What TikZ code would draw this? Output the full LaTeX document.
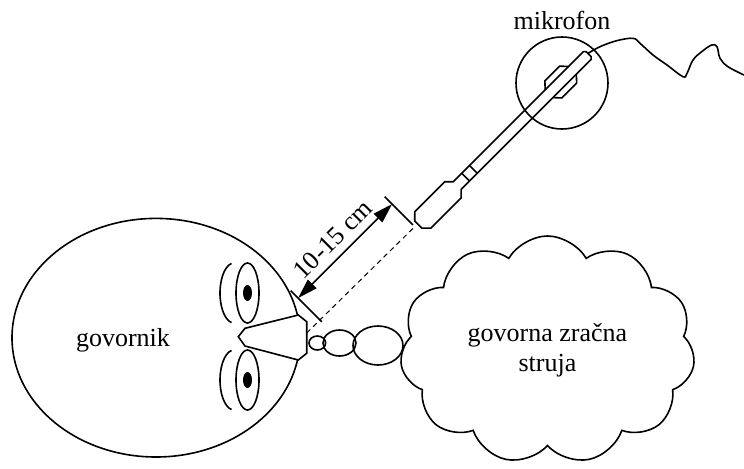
\documentclass[tikz,border=0pt]{standalone}
\usepackage{fontspec}
\setmainfont{Liberation Serif}
\usepackage{tikz}
\usetikzlibrary{arrows.meta,shapes.geometric,shapes.symbols}

\begin{document}
\begin{tikzpicture}[x=0.5pt,y=0.5pt,line width=0.8pt]
    \tikzset{lbl/.style= {font=\fontsize{13}{15}\selectfont
    , align=center
    , inner sep=0pt
      }
    , bubble/.style= {draw, ellipse, inner sep=0pt}
    , eye/.style= {draw, ellipse, inner sep=0pt
    , minimum width=11.5pt, minimum height=30pt}
    , pupil/.style= {fill, ellipse, inner sep=0pt
    , minimum width=4.5pt, minimum height=8pt}
    , dim/.style= {{Triangle[length=10pt,width=6pt]}-{Triangle[length=10pt,width=6pt]}}
    }
\useasboundingbox (0,0) rectangle (744,468);

% head with eyes
\node [draw, ellipse, inner sep=0pt, minimum width=144pt, minimum height=119.3pt] (head) at (156,130.3) {};
\node [lbl] (speaker) at (123,127.3) {govornik};
\foreach \y/\n in {175/up, 88/lo}{
  \node [eye] (eye-\n) at (247.5,\y) {};
  \node [pupil] (pupil-\n) at (eye-\n) {};
  \draw (eye-\n.center) ++(-13.5,0) ++(100:14 and 30)
    arc [start angle=100, end angle=260, x radius=14, y radius=30];
}

% nose
\draw [fill=white] (238.3,131.3) -- (245,139.7) -- (298.3,153) -- (306.7,146.3)
  -- (306.7,114.7) -- (298.3,108) -- (245,122) -- cycle;
\coordinate (noseR) at (306.7,135);

% breath
\node [bubble, minimum width=8.3pt, minimum height=7pt] (bub1) at (317.3,125) {};
\node [bubble, minimum width=16.5pt, minimum height=13pt] (bub2) at (339.5,125) {};
\node [bubble, minimum width=25pt, minimum height=19.5pt] (bub3) at (378,122.5) {};
\node [draw, cloud, cloud puffs=11, cloud puff arc=120, cloud ignores aspect
  , minimum width=147.5pt, minimum height=114pt, lbl] (air) at (547.5,118)
  {govorna zračna\\struja};

% microphone
\node [draw, circle, minimum size=46pt] (mic) at (562,385) {};
\node [lbl] (miclbl) at (562,447.5) {mikrofon};
\begin{scope}[shift={(321.4,146.6)}, rotate=45]
  \draw (137,-5) -- (137,5) -- (143.5,11.5) -- (186,11.5) -- (192,5.5) -- (376,5.5)
    -- (378,3.5) -- (378,-3.5) -- (376,-5.5) -- (192,-5.5) -- (186,-11.5)
    -- (143.5,-11.5) -- cycle;
  \draw (204,-5.5) -- (204,5.5) (215,-5.5) -- (215,5.5);
  \draw (322,5.5) -- (328,12) -- (349,12) -- (355,5.5)
    (322,-5.5) -- (328,-12) -- (349,-12) -- (355,-5.5);
  \coordinate (micTop) at (378,1);
  \coordinate (micEnd) at (133,1);
  % distance
  \draw (0,-0.5) -- (0,43.5) (133,3.5) -- (133,43.5);
  \coordinate (tipA) at (0,33);
  \coordinate (tipB) at (133,33);
  \draw [dim] (tipA) -- (tipB);
  \node [lbl, rotate=45] (dist) at (66,50) {10-15 cm};
\end{scope}
\draw [dashed, line width=0.5pt, dash pattern=on 2.5pt off 2pt] (noseR) -- (micEnd);

% cable
\draw plot [smooth, tension=0.6] coordinates {(micTop) (600,421.3) (616.7,427.3)
  (633,429.7) (640,424.7) (653,413) (667,403) (683,391.3) (687,394.7) (693,408)
  (701.7,416.3) (711.7,423) (717,421.3) (720,409.7) (728,401.3) (744,393)};
\end{tikzpicture}
\end{document}
